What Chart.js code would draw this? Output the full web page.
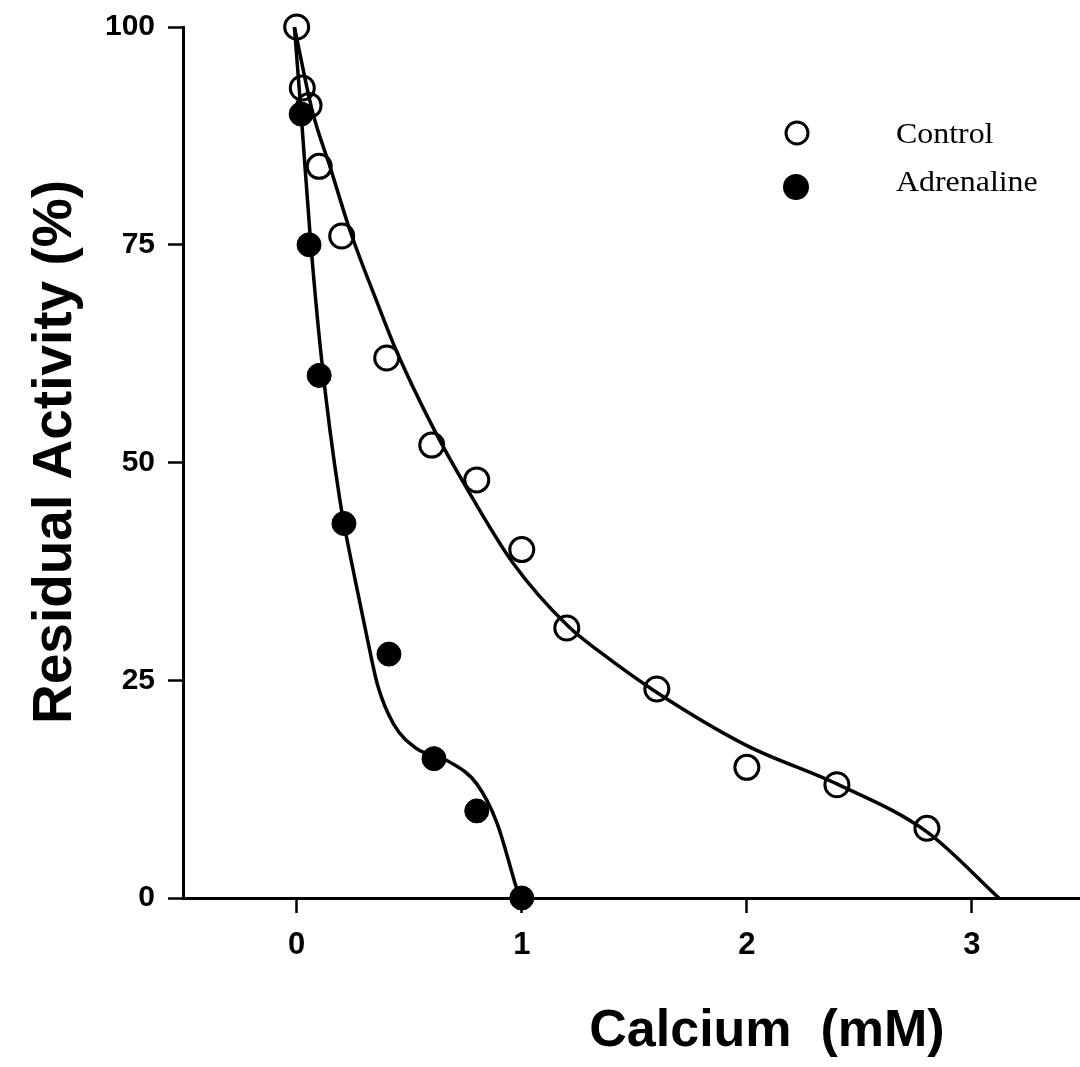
<!DOCTYPE html>
<html>
<head>
<meta charset="utf-8">
<title>Calcium - Residual Activity</title>
<script src="https://cdn.jsdelivr.net/npm/chart.js@4/dist/chart.umd.min.js"></script>
<style>
  body { margin: 0; background: #fff; }
  #conteneur { width: 1080px; height: 1067px; }
</style>
</head>
<body>
<div id="conteneur"><canvas id="myChart"></canvas></div>
<script>
// points mesurés : calcium (mM) / activité résiduelle (%)
var controlX = [0, 0.025, 0.055, 0.1, 0.2, 0.4, 0.6, 0.8, 1.0, 1.2, 1.6, 2.0, 2.4, 2.8];
var controlY = [100, 93, 91, 84, 76, 62, 52, 48, 40, 31, 24, 15, 13, 8];
var adrenX = [0.02, 0.055, 0.1, 0.21, 0.41, 0.61, 0.8, 1.0];
var adrenY = [90, 75, 60, 43, 28, 16, 10, 0];

// courbes ajustées (tracées à la main sur la figure)
var fitControlX = [-0.01, 0.07, 0.15, 0.24, 0.36, 0.44, 0.61, 0.75, 0.96, 1.21, 1.35, 1.6, 2.0, 2.4, 2.8, 3.12];
var fitControlY = [100, 90.3, 83.8, 76.4, 68.2, 63, 53.8, 47.3, 38.5, 31.1, 28.2, 23.6, 17.5, 13.1, 7.6, 0];
var fitAdrenX = [-0.01, 0.02, 0.06, 0.11, 0.19, 0.26, 0.32, 0.36, 0.43, 0.53, 0.68, 0.8, 0.89, 0.97, 0.99];
var fitAdrenY = [100, 90, 76, 62, 46, 36.5, 29, 24.4, 20, 17.2, 15.6, 13.1, 8.6, 1.7, 0];

var xTicks = [0, 1, 2, 3];
var yTicks = [0, 25, 50, 75, 100];

var legendLabels = ["Control", "Adrenaline"];
var xTitle = "Calcium  (mM)";
var yTitle = "Residual Activity (%)";

function paires(xs, ys) {
  return xs.map((x, i) => ({ x: x, y: ys[i] }));
}

// titres des axes + légende dessinés à la main
var decor = {
  id: "decor",
  afterDraw(chart) {
    var ctx = chart.ctx;
    var area = chart.chartArea;
    ctx.save();
    ctx.fillStyle = "#000";
    ctx.strokeStyle = "#000";

    ctx.font = "bold 52px 'Liberation Sans', Arial, sans-serif";
    ctx.textAlign = "center";
    ctx.textBaseline = "alphabetic";
    ctx.fillText(xTitle, 767, area.bottom + 148);

    ctx.save();
    ctx.translate(71, 452);
    ctx.rotate(-Math.PI / 2);
    ctx.font = "bold 55px 'Liberation Sans', Arial, sans-serif";
    ctx.fillText(yTitle, 0, 0);
    ctx.restore();

    // légende
    ctx.lineWidth = 3;
    ctx.beginPath();
    ctx.arc(797, 133, 11, 0, Math.PI * 2);
    ctx.stroke();
    ctx.beginPath();
    ctx.arc(796, 187, 13, 0, Math.PI * 2);
    ctx.fill();

    ctx.font = "29px 'Liberation Serif', 'Times New Roman', serif";
    ctx.textAlign = "left";
    ctx.save();
    ctx.translate(896, 143);
    ctx.scale(1.1, 1);
    ctx.fillText(legendLabels[0], 0, 0);
    ctx.restore();
    ctx.save();
    ctx.translate(896, 191);
    ctx.scale(1.1, 1);
    ctx.fillText(legendLabels[1], 0, 0);
    ctx.restore();

    ctx.restore();
  }
};

window.onload = (event) => {

Chart.defaults.font.family = "'Liberation Sans', Arial, sans-serif";
Chart.defaults.color = "#000";

var axeCommun = {
  grid: { display: true, drawOnChartArea: false, drawTicks: true, tickLength: 15, tickWidth: 2.5, tickColor: "#000" },
  border: { display: true, color: "#000", width: 3 }
};

const contexte = document.getElementById("myChart");
const myChart = new Chart(contexte, {
  type: "scatter",
  data: {
    datasets: [
      {
        label: legendLabels[0],
        data: paires(controlX, controlY),
        showLine: false,
        pointRadius: 12,
        pointBorderWidth: 3,
        pointBackgroundColor: "rgba(0,0,0,0)",
        pointBorderColor: "#000",
        clip: false
      },
      {
        label: legendLabels[1],
        data: paires(adrenX, adrenY),
        showLine: false,
        pointRadius: 12,
        pointBorderWidth: 1,
        pointBackgroundColor: "#000",
        pointBorderColor: "#000",
        clip: false
      },
      {
        label: "fit control",
        data: paires(fitControlX, fitControlY),
        showLine: true,
        pointRadius: 0,
        borderColor: "#000",
        borderWidth: 3.5,
        cubicInterpolationMode: "monotone",
        clip: false
      },
      {
        label: "fit adrenaline",
        data: paires(fitAdrenX, fitAdrenY),
        showLine: true,
        pointRadius: 0,
        borderColor: "#000",
        borderWidth: 3.5,
        cubicInterpolationMode: "monotone",
        clip: false
      }
    ]
  },
  options: {
    responsive: true,
    maintainAspectRatio: false,
    animation: false,
    // pas de marge auto pour les gros points : l'axe x va jusqu'au bord droit
    layout: { autoPadding: false, padding: { top: 27, right: 0, bottom: 0, left: 0 } },
    plugins: {
      legend: { display: false },
      tooltip: { enabled: false }
    },
    scales: {
      x: {
        type: "linear",
        min: -0.505,
        max: 3.48,
        grid: axeCommun.grid,
        border: axeCommun.border,
        ticks: { font: { size: 31, weight: "bold" }, padding: 14, maxRotation: 0 },
        afterBuildTicks: (s) => { s.ticks = xTicks.map((v) => ({ value: v })); },
        afterFit: (s) => { s.height = 169; s.paddingLeft = 0; s.paddingRight = 0; }
      },
      y: {
        min: 0,
        max: 100,
        grid: axeCommun.grid,
        border: axeCommun.border,
        ticks: { font: { size: 30, weight: "bold" }, padding: 13 },
        afterBuildTicks: (s) => { s.ticks = yTicks.map((v) => ({ value: v })); },
        afterFit: (s) => { s.width = 183; s.paddingTop = 0; s.paddingBottom = 0; }
      }
    }
  },
  plugins: [decor]
});

}
</script>
</body>
</html>
